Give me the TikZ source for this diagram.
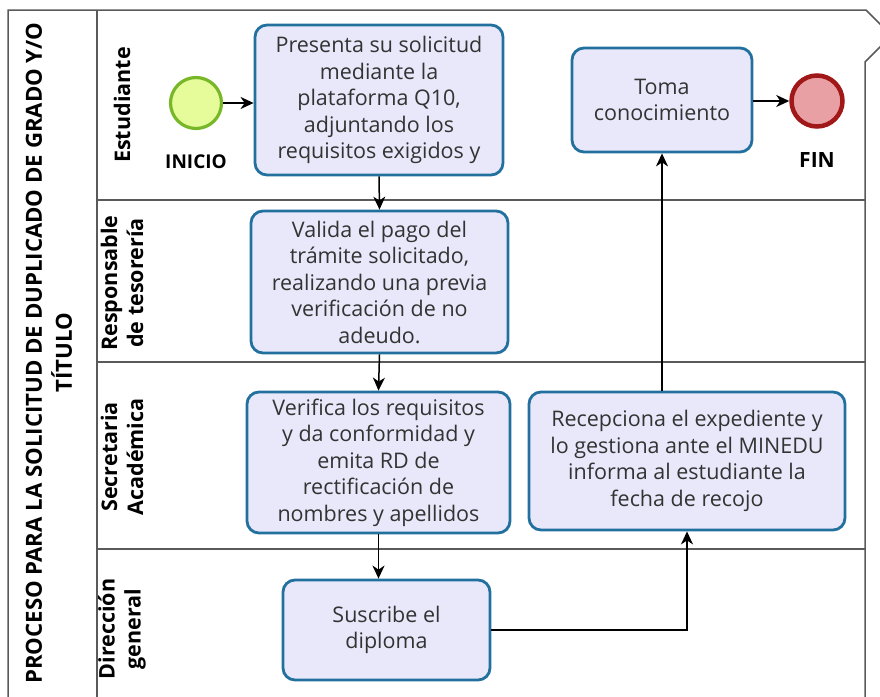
\documentclass[tikz,border=0pt]{standalone}
\usepackage{fontspec}
\setmainfont{Open Sans}
\usetikzlibrary{arrows.meta}
\definecolor{boxfill}{HTML}{E8E8FA}
\definecolor{boxline}{HTML}{22709E}
\definecolor{poolline}{HTML}{5A5A5A}
\definecolor{startfill}{HTML}{E6FC9A}
\definecolor{startline}{HTML}{78B828}
\definecolor{endfill}{HTML}{E8A0A4}
\definecolor{endline}{HTML}{A01818}
\definecolor{txt}{HTML}{333333}
\begin{document}
\begin{tikzpicture}[x=1pt,y=-1pt,
  task/.style={draw=boxline, fill=boxfill, line width=2.8pt, rounded corners=12pt,
    align=center, text=txt, font=\fontsize{21.5}{26.5}\selectfont, inner sep=0pt},
  startev/.style={circle, draw=startline, fill=startfill, line width=3.2pt, minimum size=51pt, inner sep=0pt},
  endev/.style={circle, draw=endline, fill=endfill, line width=4.5pt, minimum size=51pt, inner sep=0pt},
  evlabel/.style={font=\fontsize{19}{21}\bfseries\selectfont, text=black},
  lanelabel/.style={rotate=90, align=center, font=\fontsize{21.5}{26}\bfseries\selectfont, text=black},
  pool/.style={draw=poolline, line width=1.5pt},
  flow/.style={draw=black, line width=1.5pt, -{Stealth[length=13pt,width=12pt,inset=4pt]}}
]
\useasboundingbox (0,0) rectangle (880,696);
\begin{scope}
\clip (0,0) rectangle (880,696);
% pool frame
\draw[pool] (8,705) -- (8,10) -- (866,10) -- (884,28);
\draw[pool] (884,43) -- (865,62) -- (865,705);
\draw[pool] (97,10) -- (97,705);
\draw[pool] (97,200) -- (865,200);
\draw[pool] (97,362) -- (865,362);
\draw[pool] (97,549) -- (865,549);
% title
\node[rotate=90, align=center, font=\fontsize{22.2}{30}\bfseries\selectfont] (title) at (49,353)
  {PROCESO PARA LA SOLICITUD DE DUPLICADO DE GRADO Y/O\\TÍTULO};
\end{scope}
% lane labels
\node[lanelabel] (l1) at (122,105) {Estudiante};
\node[lanelabel] (l2) at (122,283) {Responsable\\de tesorería};
\node[lanelabel] (l3) at (122,457) {Secretaria\\Académica};
\node[lanelabel] (l4) at (122,629) {Dirección\\general};
% events
\node[startev] (inicio) at (196,103) {};
\node[evlabel] (inicioL) at (196,162) {INICIO};
\node[endev] (fin) at (817,101) {};
\node[evlabel, font=\fontsize{21}{23}\bfseries\selectfont] (finL) at (817,160) {FIN};
% tasks
\node[task, minimum width=248pt, minimum height=150pt] (t1) at (379,100)
  {Presenta su solicitud\\mediante la\\plataforma Q10,\\adjuntando los\\requisitos exigidos y};
\node[task, minimum width=257pt, minimum height=142pt] (t2) at (379.5,282)
  {Valida el pago del\\trámite solicitado,\\realizando una previa\\verificación de no\\adeudo.};
\node[task, minimum width=263pt, minimum height=141pt] (t3) at (378.5,462.5)
  {Verifica los requisitos\\y da conformidad y\\emita RD de\\rectificación de\\nombres y apellidos};
\node[task, minimum width=207pt, minimum height=100pt] (t4) at (386.5,630)
  {Suscribe el\\diploma};
\node[task, minimum width=316pt, minimum height=138pt] (t5) at (687,461)
  {Recepciona el expediente y\\lo gestiona ante el MINEDU\\informa al estudiante la\\fecha de recojo};
\node[task, minimum width=180pt, minimum height=104pt] (t6) at (662,100)
  {Toma\\conocimiento};
% flows
\draw[flow] (inicio.east) -- (t1.west |- inicio.east);
\draw[flow] (t1.south) -- (t2.north);
\draw[flow] (t2.south) -- (t3.north);
\draw[flow] (t3.south) -- (t3.south |- t4.north);
\draw[flow] (t4.east) -| (t5.south);
\draw[flow] (t5.north -| t6.south) -- (t6.south);
\draw[flow] (t6.east |- fin.west) -- (fin.west);
\end{tikzpicture}
\end{document}
